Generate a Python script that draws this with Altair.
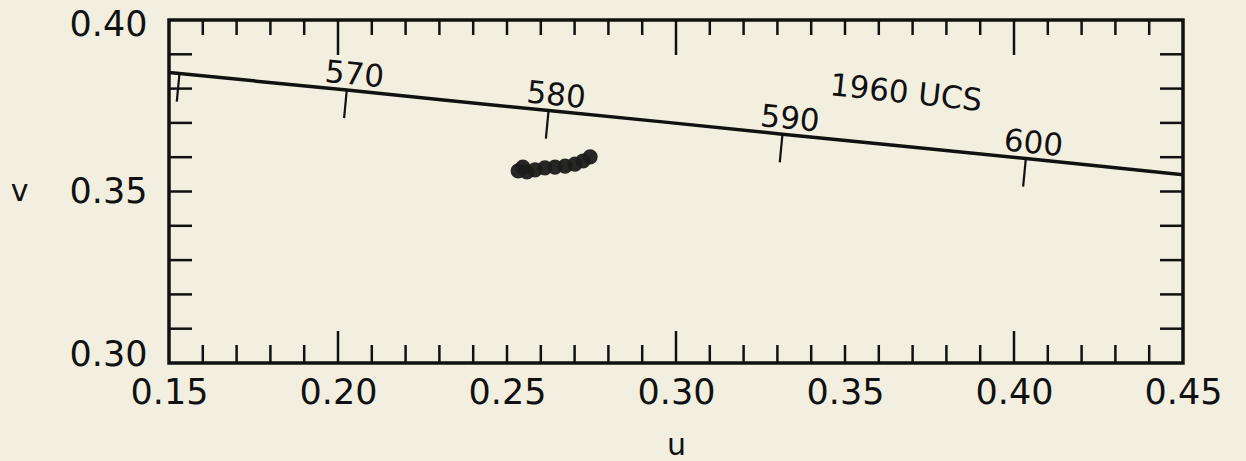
import altair as alt
import pandas as pd

# Spectrum locus in the CIE 1960 UCS (u, v) diagram
wavelength_nm = [555, 560, 565, 570, 575, 580, 585, 590, 595, 600, 605, 610]
locus_u = [0.1319, 0.1531, 0.1766, 0.2026, 0.2312, 0.2623, 0.2960, 0.3315, 0.3681, 0.4035, 0.4379, 0.4692]
locus_v = [0.3864, 0.3844, 0.3821, 0.3796, 0.3767, 0.3736, 0.3703, 0.3667, 0.3631, 0.3596, 0.3561, 0.3530]

# wavelengths marked with a tick on the locus, and those that carry a label
marked_nm = [560, 570, 580, 590, 600]
labelled_nm = [570, 580, 590, 600]

# measured chromaticities of the samples
sample_u = [0.2533, 0.2547, 0.2559, 0.2583, 0.2612, 0.2642, 0.2672, 0.2701, 0.2725, 0.2746]
sample_v = [0.3560, 0.3571, 0.3557, 0.3563, 0.3569, 0.3571, 0.3574, 0.3580, 0.3589, 0.3601]

# axis labels and frame ticks
u_label_values = [0.15, 0.20, 0.25, 0.30, 0.35, 0.40, 0.45]
v_label_values = [0.30, 0.35, 0.40]
u_minor_ticks = [0.16, 0.17, 0.18, 0.19, 0.21, 0.22, 0.23, 0.24, 0.25, 0.26, 0.27, 0.28, 0.29,
                 0.31, 0.32, 0.33, 0.34, 0.35, 0.36, 0.37, 0.38, 0.39, 0.41, 0.42, 0.43, 0.44]
u_major_ticks = [0.20, 0.30, 0.40]
v_ticks = [0.31, 0.32, 0.33, 0.34, 0.35, 0.36, 0.37, 0.38, 0.39]

W, H = 1014, 343
FONT = "DejaVu Sans"
INK = "#111111"

locus = pd.DataFrame({"nm": wavelength_nm, "u": locus_u, "v": locus_v})
marks = locus[locus["nm"].isin(marked_nm)].copy()
# short marker pointing away from the locus, roughly perpendicular to it
marks["u2"] = marks["u"] - 0.0008
marks["v2"] = marks["v"] - 0.0082
labels = locus[locus["nm"].isin(labelled_nm)].copy()
labels["text"] = labels["nm"].astype(str)
samples = pd.DataFrame({"u": sample_u, "v": sample_v})
note = pd.DataFrame({"u": [0.368], "v": [0.3784], "text": ["1960 UCS"]})

xscale = alt.Scale(domain=[0.15, 0.45], nice=False, zero=False)
yscale = alt.Scale(domain=[0.30, 0.40], nice=False, zero=False)

xaxis = alt.Axis(
    values=u_label_values, format=".2f", ticks=False, tickSize=0, domain=False, grid=False,
    labelFont=FONT, labelFontSize=35, labelColor=INK, labelPadding=12, labelFlush=False,
    title="u", titleFont=FONT, titleFontSize=30, titleFontWeight="normal", titleColor=INK,
    titleX=W / 2, titleY=82, titleAlign="center", titleBaseline="middle",
)
yaxis = alt.Axis(
    values=v_label_values, format=".2f", ticks=False, tickSize=0, domain=False, grid=False,
    labelFont=FONT, labelFontSize=35, labelColor=INK, labelPadding=22, labelFlush=False,
    labelOffset={
        "condition": [
            {"test": "datum.value >= 0.395", "value": 4},
            {"test": "datum.value <= 0.305", "value": -9},
        ],
        "value": 0,
    },
    title="v", titleFont=FONT, titleFontSize=30, titleFontWeight="normal", titleColor=INK,
    titleAngle=0, titleX=-150, titleY=H / 2, titleAlign="center", titleBaseline="middle",
)

X = alt.X("u:Q", scale=xscale, axis=xaxis)
Y = alt.Y("v:Q", scale=yscale, axis=yaxis)

locus_line = alt.Chart(locus).mark_line(color=INK, strokeWidth=3.5, clip=True).encode(
    x=X, y=Y, order="nm:Q"
)
locus_marks = alt.Chart(marks).mark_rule(color=INK, strokeWidth=2.2, clip=True).encode(
    x=X, y=Y, x2="u2:Q", y2="v2:Q"
)
locus_labels = alt.Chart(labels).mark_text(
    font=FONT, fontSize=31, color=INK, angle=5.7, dx=6, dy=-15, baseline="middle", align="center"
).encode(x=X, y=Y, text="text:N")
note_text = alt.Chart(note).mark_text(
    font=FONT, fontSize=31, color=INK, angle=6, baseline="middle", align="center"
).encode(x=X, y=Y, text="text:N")
dots = alt.Chart(samples).mark_circle(size=230, color="#1b1b1b", opacity=0.95).encode(x=X, y=Y)

# inward-pointing frame ticks
ub_minor = pd.DataFrame({"u": u_minor_ticks})
ub_major = pd.DataFrame({"u": u_major_ticks})
vt = pd.DataFrame({"v": v_ticks})
tick_style = dict(color=INK, strokeWidth=2.5)

bottom_minor = alt.Chart(ub_minor).mark_rule(**tick_style).encode(
    x=X, y=alt.value(H), y2=alt.value(H - 18))
bottom_major = alt.Chart(ub_major).mark_rule(**tick_style).encode(
    x=X, y=alt.value(H), y2=alt.value(H - 32))
top_minor = alt.Chart(ub_minor).mark_rule(**tick_style).encode(
    x=X, y=alt.value(0), y2=alt.value(15))
top_major = alt.Chart(ub_major).mark_rule(**tick_style).encode(
    x=X, y=alt.value(0), y2=alt.value(35))
left_ticks = alt.Chart(vt).mark_rule(**tick_style).encode(
    y=Y, x=alt.value(0), x2=alt.value(23))
right_ticks = alt.Chart(vt).mark_rule(**tick_style).encode(
    y=Y, x=alt.value(W), x2=alt.value(W - 23))

chart = alt.layer(
    locus_line, locus_marks, locus_labels, note_text, dots,
    bottom_minor, bottom_major, top_minor, top_major, left_ticks, right_ticks,
).properties(
    width=W, height=H,
    autosize=alt.AutoSizeParams(type="none"),
    padding={"left": 169, "top": 20, "right": 63, "bottom": 98},
    background="#f3efe0",
).configure_view(
    stroke=INK, strokeWidth=3.5, fill=None
)

chart.save("out.html", embed_options={"renderer": "svg", "actions": False})
